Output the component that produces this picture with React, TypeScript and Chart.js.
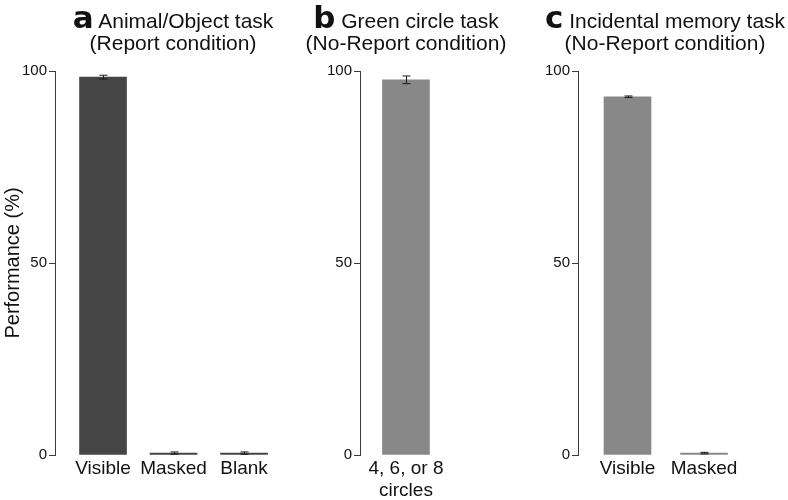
import React, { useEffect, useRef } from "react";
import { Chart, registerables } from "chart.js";

Chart.register(...registerables);

const FONT = '"Liberation Sans", Arial, Helvetica, sans-serif';

// ---- data ----
const panelACategories: (string | string[])[] = ["Visible", "Masked", "Blank"];
const panelAValues = [98.4, 0.5, 0.5];
const panelAErrors = [0.5, 0.3, 0.3];

const panelBCategories: (string | string[])[] = [["4, 6, or 8", "circles"]];
const panelBValues = [97.7];
const panelBErrors = [1.0];

const panelCCategories: (string | string[])[] = ["Visible", "Masked"];
const panelCValues = [93.3, 0.5];
const panelCErrors = [0.2, 0.2];

const yTickValues = [0, 50, 100];
const yAxisTitle = "Performance (%)";

const titleA = { letter: "a", line1: "Animal/Object task", line2: "(Report condition)" };
const titleB = { letter: "b", line1: "Green circle task", line2: "(No-Report condition)" };
const titleC = { letter: "c", line1: "Incidental memory task", line2: "(No-Report condition)" };

const errorBarPlugin = {
  id: "errorBars",
  afterDatasetsDraw(chart: any, _args: any, opts: any) {
    const errs: number[] = opts.errors || [];
    const meta = chart.getDatasetMeta(0);
    const ys = chart.scales.y;
    const ctx = chart.ctx;
    ctx.save();
    ctx.strokeStyle = "#1a1a1a";
    ctx.lineWidth = 1;
    meta.data.forEach((bar: any, i: number) => {
      const v = chart.data.datasets[0].data[i].y;
      const e = errs[i] || 0;
      const x = Math.round(bar.x) + 0.5;
      const yTop = ys.getPixelForValue(v + e);
      const yBot = ys.getPixelForValue(v - e);
      const cap = 4;
      ctx.beginPath();
      ctx.moveTo(x, yTop);
      ctx.lineTo(x, yBot);
      ctx.moveTo(x - cap, yTop);
      ctx.lineTo(x + cap, yTop);
      ctx.moveTo(x - cap, yBot);
      ctx.lineTo(x + cap, yBot);
      ctx.stroke();
    });
    ctx.restore();
  },
};

type PanelProps = {
  left: number;
  width: number;
  axisWidth: number;
  padRight: number;
  xMin: number;
  xMax: number;
  categories: (string | string[])[];
  values: number[];
  errors: number[];
  color: string;
  showYTitle: boolean;
};

function Panel(p: PanelProps) {
  const ref = useRef<HTMLCanvasElement | null>(null);
  useEffect(() => {
    if (!ref.current) return;
    const chart = new Chart(ref.current, {
      type: "bar",
      data: {
        datasets: [
          {
            data: p.values.map((v, i) => ({ x: i, y: v })) as any,
            backgroundColor: p.color,
            borderWidth: 0,
            barThickness: 47,
          },
        ],
      },
      options: {
        animation: false,
        responsive: false,
        layout: { padding: { top: 71, right: p.padRight, bottom: 0, left: 0 } },
        plugins: {
          legend: { display: false },
          tooltip: { enabled: false },
          errorBars: { errors: p.errors },
        } as any,
        scales: {
          x: {
            type: "linear",
            offset: false,
            min: p.xMin,
            max: p.xMax,
            border: { display: false },
            grid: { display: false, drawTicks: false, offset: false },
            afterBuildTicks: (s: any) => {
              s.ticks = p.categories.map((_, i) => ({ value: i }));
            },
            afterFit: (s: any) => {
              s.height = 45;
            },
            ticks: {
              autoSkip: false,
              maxRotation: 0,
              padding: 2,
              color: "#111",
              font: { family: FONT, size: 19, lineHeight: 1.2 },
              callback: (v: any) => p.categories[v as number] as any,
            },
          } as any,
          y: {
            min: 0,
            max: 100,
            afterBuildTicks: (s: any) => {
              s.ticks = yTickValues.map((v) => ({ value: v }));
            },
            afterFit: (s: any) => {
              s.width = p.axisWidth;
            },
            border: { display: true, color: "#3a3a3a", width: 1 },
            grid: {
              display: true,
              drawOnChartArea: false,
              drawTicks: true,
              tickLength: 6,
              color: "#3a3a3a",
            },
            ticks: {
              padding: 2,
              color: "#111",
              font: { family: FONT, size: 15 },
            },
            title: {
              display: p.showYTitle,
              text: yAxisTitle,
              color: "#111",
              padding: { top: 1, bottom: 2 },
              font: { family: FONT, size: 20 },
            },
          } as any,
        },
      },
      plugins: [errorBarPlugin as any],
    });
    return () => chart.destroy();
  }, []);
  return (
    <canvas
      ref={ref}
      width={p.width}
      height={500}
      style={{ position: "absolute", left: p.left, top: 0, width: p.width, height: 500, display: "block" }}
    />
  );
}

function Title({ center, t }: { center: number; t: { letter: string; line1: string; line2: string } }) {
  const base: React.CSSProperties = {
    position: "absolute",
    left: center,
    transform: "translateX(-50%)",
    whiteSpace: "nowrap",
    fontFamily: FONT,
    fontSize: 21,
    lineHeight: 1,
    color: "#111",
  };
  return (
    <>
      <div style={{ ...base, top: 10 }}>
        <span
          style={{ fontFamily: '"DejaVu Sans", sans-serif', fontWeight: "bold", fontSize: 31, lineHeight: 0 }}
        >
          {t.letter}
        </span>{" "}
        {t.line1}
      </div>
      <div style={{ ...base, top: 32 }}>{t.line2}</div>
    </>
  );
}

export default function App() {
  return (
    <div style={{ position: "absolute", left: 0, top: 0, width: 788, height: 500, background: "#fff", overflow: "hidden" }}>
      <Panel
        left={0}
        width={290}
        axisWidth={55}
        padRight={10}
        xMin={-0.681}
        xMax={2.51}
        categories={panelACategories}
        values={panelAValues}
        errors={panelAErrors}
        color="#454545"
        showYTitle={true}
      />
      <Panel
        left={290}
        width={240}
        axisWidth={70}
        padRight={10}
        xMin={-0.657}
        xMax={1.63}
        categories={panelBCategories}
        values={panelBValues}
        errors={panelBErrors}
        color="#888888"
        showYTitle={false}
      />
      <Panel
        left={530}
        width={258}
        axisWidth={48}
        padRight={8}
        xMin={-0.647}
        xMax={1.993}
        categories={panelCCategories}
        values={panelCValues}
        errors={panelCErrors}
        color="#888888"
        showYTitle={false}
      />
      <Title center={173} t={titleA} />
      <Title center={406} t={titleB} />
      <Title center={665} t={titleC} />
    </div>
  );
}
